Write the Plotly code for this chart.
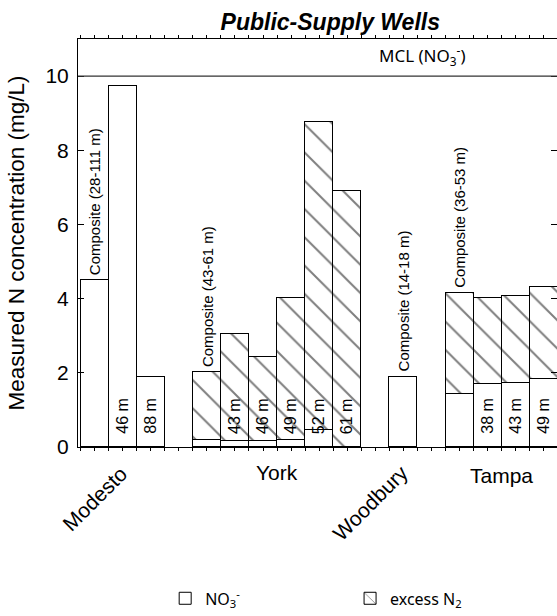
import plotly.graph_objects as go

# ---------------- data ----------------
sites = ["Modesto", "York", "Woodbury", "Tampa"]
well_labels = [
    ["Composite (28-111 m)", "46 m", "88 m"],
    ["Composite (43-61 m)", "43 m", "46 m", "49 m", "52 m", "61 m"],
    ["Composite (14-18 m)"],
    ["Composite (36-53 m)", "38 m", "43 m", "49 m"],
]
no3 = [
    [4.50, 9.72, 1.90],
    [0.18, 0.15, 0.15, 0.20, 0.47, 0.00],
    [1.90],
    [1.43, 1.69, 1.72, 1.84],
]
excess_n2 = [
    [None, None, None],
    [1.85, 2.91, 2.27, 3.83, 8.29, 6.89],
    [None],
    [2.73, 2.34, 2.34, 2.48],
]
mcl = 10
y_ticks = [0, 2, 4, 6, 8, 10]

# ------------- positions derived from group structure -------------
xs, no3_flat, ex_flat, labels_flat, group_centers = [], [], [], [], []
pos = 1
for g, wells in enumerate(well_labels):
    start = pos
    for i, lab in enumerate(wells):
        xs.append(pos)
        no3_flat.append(no3[g][i])
        ex_flat.append(excess_n2[g][i])
        labels_flat.append(lab)
        pos += 1
    group_centers.append((start + pos - 1) / 2)
    pos += 1  # gap between sites

FONT = "Liberation Sans, Arial, sans-serif"
LFONT = "Noto Sans, Open Sans, sans-serif"

fig = go.Figure()
fig.add_trace(go.Bar(
    x=xs, y=no3_flat, width=1, name="NO<sub>3</sub><sup>-</sup>",
    marker=dict(color="white", line=dict(color="black", width=1)),
    legend="legend",
))
fig.add_trace(go.Bar(
    x=xs, y=ex_flat, width=1, name="excess N<sub>2</sub>",
    marker=dict(color="white", line=dict(color="black", width=1),
                pattern=dict(shape="\\", size=20, solidity=0.1,
                             fgcolor="black", bgcolor="white")),
    legend="legend2",
))

annotations = []
# well labels
for x, lab, a, b in zip(xs, labels_flat, no3_flat, ex_flat):
    total = a + (b or 0)
    if lab.startswith("Composite"):
        annotations.append(dict(x=x, y=total, text=lab, textangle=-90,
                                showarrow=False, xanchor="center", yanchor="bottom",
                                yshift=3, font=dict(family=FONT, size=15, color="black")))
    else:
        annotations.append(dict(x=x, y=0, text=lab, textangle=-90,
                                showarrow=False, xanchor="center", yanchor="bottom",
                                xshift=-1, yshift=11, font=dict(family=FONT, size=16, color="black")))

# site labels
site_style = {
    "Modesto": dict(angle=-45, xs=-28, ys=-51),
    "York": dict(angle=0, xs=0, ys=-25),
    "Woodbury": dict(angle=-45, xs=-33, ys=-55),
    "Tampa": dict(angle=0, xs=0, ys=-28),
}
for s, c in zip(sites, group_centers):
    st = site_style[s]
    annotations.append(dict(x=c, y=0, text=s, textangle=st["angle"], showarrow=False,
                            xanchor="center", yanchor="middle",
                            xshift=st["xs"], yshift=st["ys"],
                            font=dict(family=FONT, size=21, color="black")))

# MCL label
annotations.append(dict(x=0.814, xref="paper", y=mcl, text="MCL (NO<sub>3</sub><sup>-</sup>)",
                        showarrow=False, xanchor="right", yanchor="bottom", yshift=5,
                        font=dict(family=LFONT, size=17, color="black")))

fig.add_shape(type="line", xref="paper", x0=0, x1=1, y0=mcl, y1=mcl,
              line=dict(color="#333333", width=1.3))

fig.update_layout(
    width=557, height=616,
    margin=dict(l=78, r=0, t=39, b=167),
    paper_bgcolor="white", plot_bgcolor="white",
    barmode="stack", bargap=0,
    showlegend=True,
    title=dict(text="<b><i>Public-Supply Wells</i></b>", x=0.593, xanchor="center",
               y=0.965, yanchor="middle",
               font=dict(family=FONT, size=23, color="black")),
    legend=dict(orientation="h", x=0.182, y=-0.371, xanchor="left", yanchor="middle",
                font=dict(family=LFONT, size=16, color="black"), bgcolor="rgba(0,0,0,0)"),
    legend2=dict(orientation="h", x=0.568, y=-0.371, xanchor="left", yanchor="middle",
                 font=dict(family=LFONT, size=16, color="black"), bgcolor="rgba(0,0,0,0)"),
    annotations=annotations,
    xaxis=dict(range=[0.41, 17.47], showgrid=False, zeroline=False,
               showline=True, linecolor="black", linewidth=1, mirror="ticks",
               ticks="outside", ticklen=3, tickcolor="black",
               tick0=0.5, dtick=0.5, showticklabels=False),
    yaxis=dict(range=[0, 11], showgrid=False, zeroline=False,
               showline=True, linecolor="black", linewidth=1, mirror="ticks",
               ticks="inside", ticklen=6, tickcolor="black",
               tickvals=y_ticks, ticklabelstandoff=4,
               tickfont=dict(family=FONT, size=21, color="black"),
               title=dict(text="Measured N concentration (mg/L)", standoff=14,
                          font=dict(family=FONT, size=22.5, color="black"))),
)

fig.write_html("out.html")
